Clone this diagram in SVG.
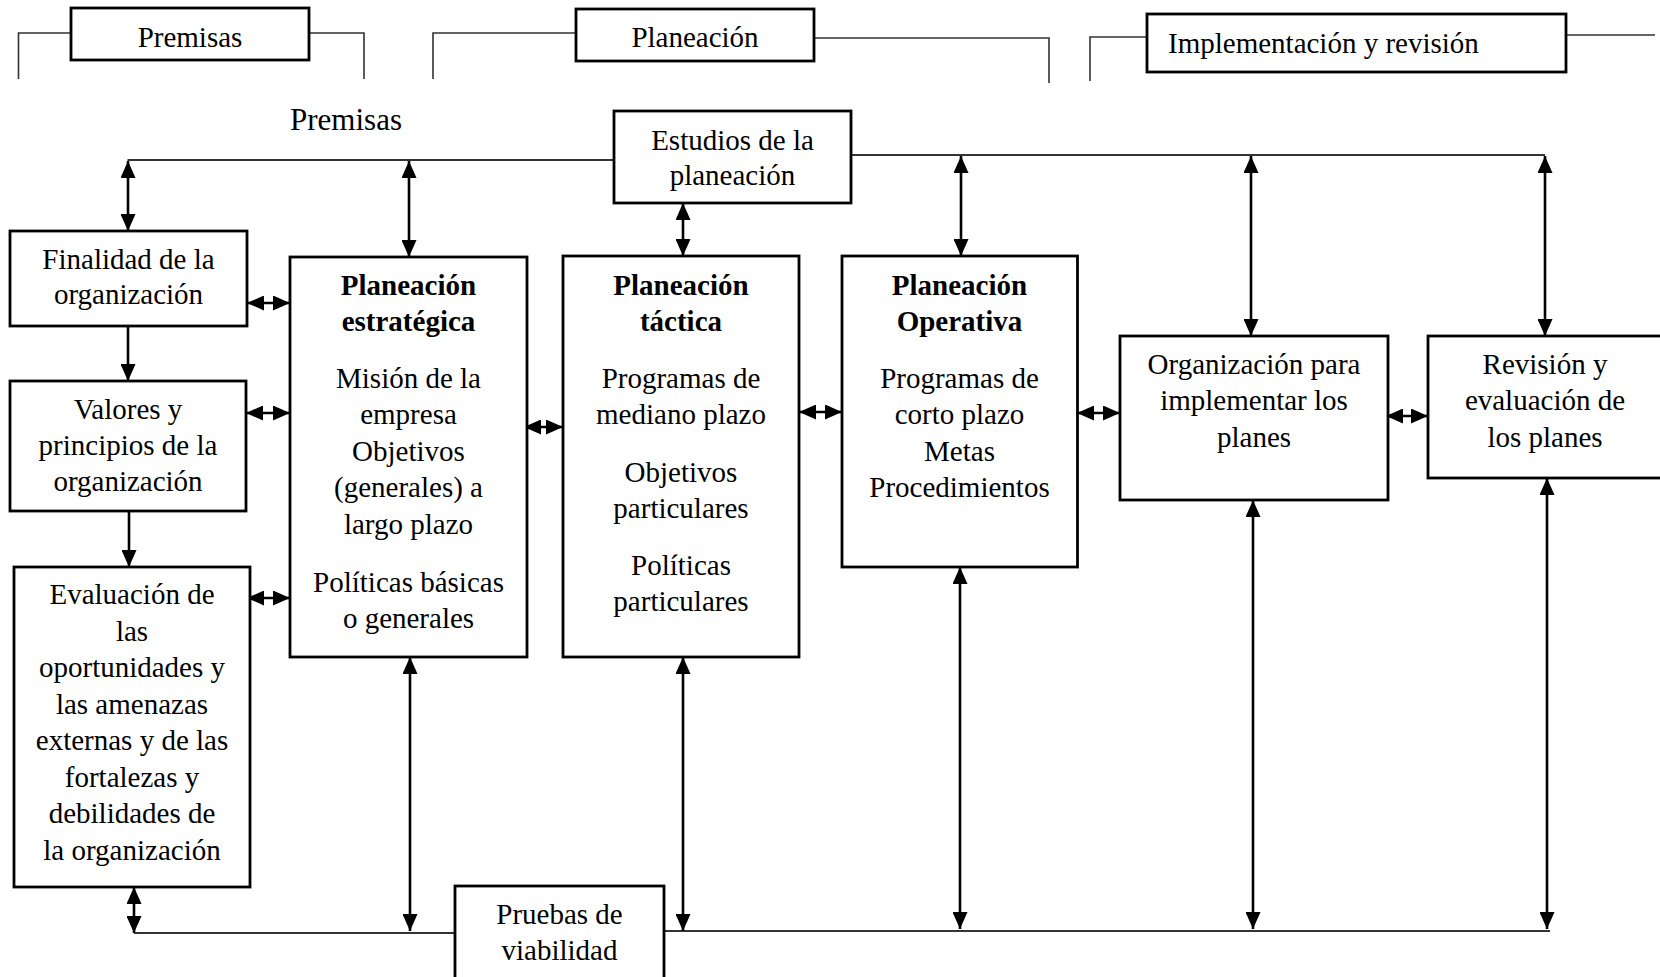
<svg xmlns="http://www.w3.org/2000/svg" width="1660" height="977" viewBox="0 0 1660 977">
  <defs>
    <marker id="ah" viewBox="0 0 17 15" refX="17" refY="7.5" markerWidth="17" markerHeight="15" markerUnits="userSpaceOnUse" orient="auto-start-reverse">
      <path d="M0,0 L17,7.5 L0,15 z" fill="#000"/>
    </marker>
    <style>
      .box { fill: #fff; stroke: #000; stroke-width: 2.8; }
      .t { font-family: "Liberation Serif", "Times New Roman", serif; font-size: 29px; fill: #000; text-anchor: middle; }
      .b { font-weight: bold; }
      .bracket { fill: none; stroke: #333; stroke-width: 1.6; }
      .bus { fill: none; stroke: #333; stroke-width: 2.2; }
      .arr { fill: none; stroke: #000; stroke-width: 2.6; marker-start: url(#ah); marker-end: url(#ah); }
      .arr1 { fill: none; stroke: #000; stroke-width: 2.6; marker-end: url(#ah); }
    </style>
  </defs>
  <rect width="1660" height="977" fill="#fff"/>

  <!-- connectors -->
  <g id="connectors">
    <!-- header brackets -->
    <path class="bracket" d="M18.5,79 V33 H71"/>
    <path class="bracket" d="M309,33 H364 V79"/>
    <path class="bracket" d="M433,79 V33 H576"/>
    <path class="bracket" d="M814,38 H1049 V83"/>
    <path class="bracket" d="M1090,81 V37 H1147"/>
    <path class="bracket" d="M1566,35 H1655"/>
    <!-- top and bottom buses -->
    <path class="bus" d="M127.5,160 H614"/>
    <path class="bus" d="M851,155 H1545"/>
    <path class="bus" d="M134,933 H455"/>
    <path class="bus" d="M664,931 H1550"/>
    <!-- vertical links from the top bus -->
    <line class="arr" x1="128" y1="161" x2="128" y2="231"/>
    <line class="arr" x1="409" y1="161" x2="409" y2="257"/>
    <line class="arr" x1="683" y1="203" x2="683" y2="256"/>
    <line class="arr" x1="961" y1="156" x2="961" y2="256"/>
    <line class="arr" x1="1251" y1="156" x2="1251" y2="336"/>
    <line class="arr" x1="1545" y1="156" x2="1545" y2="336"/>
    <!-- left column chain -->
    <line class="arr1" x1="128" y1="326" x2="128" y2="381"/>
    <line class="arr1" x1="129" y1="511" x2="129" y2="567"/>
    <!-- vertical links to the bottom bus -->
    <line class="arr" x1="134" y1="887" x2="134" y2="933"/>
    <line class="arr" x1="410" y1="657" x2="410" y2="931"/>
    <line class="arr" x1="683" y1="657" x2="683" y2="931"/>
    <line class="arr" x1="960" y1="567" x2="960" y2="929"/>
    <line class="arr" x1="1253" y1="500" x2="1253" y2="929"/>
    <line class="arr" x1="1547" y1="478" x2="1547" y2="929"/>
    <!-- horizontal links -->
    <line class="arr" x1="247" y1="303" x2="290" y2="303"/>
    <line class="arr" x1="246" y1="413" x2="290" y2="413"/>
    <line class="arr" x1="247" y1="598" x2="290" y2="598"/>
    <line class="arr" x1="524" y1="427" x2="563" y2="427"/>
    <line class="arr" x1="799" y1="412" x2="842" y2="412"/>
    <line class="arr" x1="1077" y1="413" x2="1120" y2="413"/>
    <line class="arr" x1="1386" y1="416" x2="1428" y2="416"/>
  </g>

  <!-- header labels -->
  <g id="hdr-premisas">
    <rect class="box" x="71" y="8" width="238" height="52"/>
    <text class="t" x="190" y="47">Premisas</text>
  </g>
  <g id="hdr-planeacion">
    <rect class="box" x="576" y="9" width="238" height="52"/>
    <text class="t" x="695" y="47">Planeación</text>
  </g>
  <g id="hdr-implementacion">
    <rect class="box" x="1147" y="14" width="419" height="58"/>
    <text class="t" x="1168" y="53" style="text-anchor:start">Implementación y revisión</text>
  </g>
  <g id="lbl-premisas">
    <text class="t" x="346" y="130" style="font-size:31px">Premisas</text>
  </g>

  <!-- nodes -->
  <g id="estudios">
    <rect class="box" x="614" y="111" width="237" height="92"/>
    <text class="t" x="732.5" y="150">Estudios de la</text>
    <text class="t" x="732.5" y="185">planeación</text>
  </g>
  <g id="finalidad">
    <rect class="box" x="10" y="231" width="237" height="95"/>
    <text class="t" x="128.5" y="269">Finalidad de la</text>
    <text class="t" x="128.5" y="304">organización</text>
  </g>
  <g id="valores">
    <rect class="box" x="10" y="381" width="236" height="130"/>
    <text class="t" x="128" y="419">Valores y</text>
    <text class="t" x="128" y="455">principios de la</text>
    <text class="t" x="128" y="491">organización</text>
  </g>
  <g id="evaluacion">
    <rect class="box" x="14" y="567" width="236" height="320"/>
    <text class="t" x="132" y="604">Evaluación de</text>
    <text class="t" x="132" y="640.5">las</text>
    <text class="t" x="132" y="677">oportunidades y</text>
    <text class="t" x="132" y="713.5">las amenazas</text>
    <text class="t" x="132" y="750">externas y de las</text>
    <text class="t" x="132" y="786.5">fortalezas y</text>
    <text class="t" x="132" y="823">debilidades de</text>
    <text class="t" x="132" y="859.5">la organización</text>
  </g>
  <g id="estrategica">
    <rect class="box" x="290" y="257" width="237" height="400"/>
    <text class="t b" x="408.5" y="295">Planeación</text>
    <text class="t b" x="408.5" y="331">estratégica</text>
    <text class="t" x="408.5" y="388">Misión de la</text>
    <text class="t" x="408.5" y="424">empresa</text>
    <text class="t" x="408.5" y="461">Objetivos</text>
    <text class="t" x="408.5" y="497">(generales) a</text>
    <text class="t" x="408.5" y="534">largo plazo</text>
    <text class="t" x="408.5" y="592">Políticas básicas</text>
    <text class="t" x="408.5" y="628">o generales</text>
  </g>
  <g id="tactica">
    <rect class="box" x="563" y="256" width="236" height="401"/>
    <text class="t b" x="681" y="295">Planeación</text>
    <text class="t b" x="681" y="331">táctica</text>
    <text class="t" x="681" y="388">Programas de</text>
    <text class="t" x="681" y="424">mediano plazo</text>
    <text class="t" x="681" y="482">Objetivos</text>
    <text class="t" x="681" y="518">particulares</text>
    <text class="t" x="681" y="575">Políticas</text>
    <text class="t" x="681" y="611">particulares</text>
  </g>
  <g id="operativa">
    <rect class="box" x="842" y="256" width="235.5" height="311"/>
    <text class="t b" x="959.5" y="295">Planeación</text>
    <text class="t b" x="959.5" y="331">Operativa</text>
    <text class="t" x="959.5" y="388">Programas de</text>
    <text class="t" x="959.5" y="424">corto plazo</text>
    <text class="t" x="959.5" y="461">Metas</text>
    <text class="t" x="959.5" y="497">Procedimientos</text>
  </g>
  <g id="organizacion">
    <rect class="box" x="1120" y="336" width="268" height="164"/>
    <text class="t" x="1254" y="374">Organización para</text>
    <text class="t" x="1254" y="410">implementar los</text>
    <text class="t" x="1254" y="447">planes</text>
  </g>
  <g id="revision">
    <rect class="box" x="1428" y="336" width="234" height="142"/>
    <text class="t" x="1545" y="374">Revisión y</text>
    <text class="t" x="1545" y="410">evaluación de</text>
    <text class="t" x="1545" y="447">los planes</text>
  </g>
  <g id="pruebas">
    <rect class="box" x="455" y="886" width="209" height="96"/>
    <text class="t" x="559.5" y="924">Pruebas de</text>
    <text class="t" x="559.5" y="960">viabilidad</text>
  </g>
</svg>
